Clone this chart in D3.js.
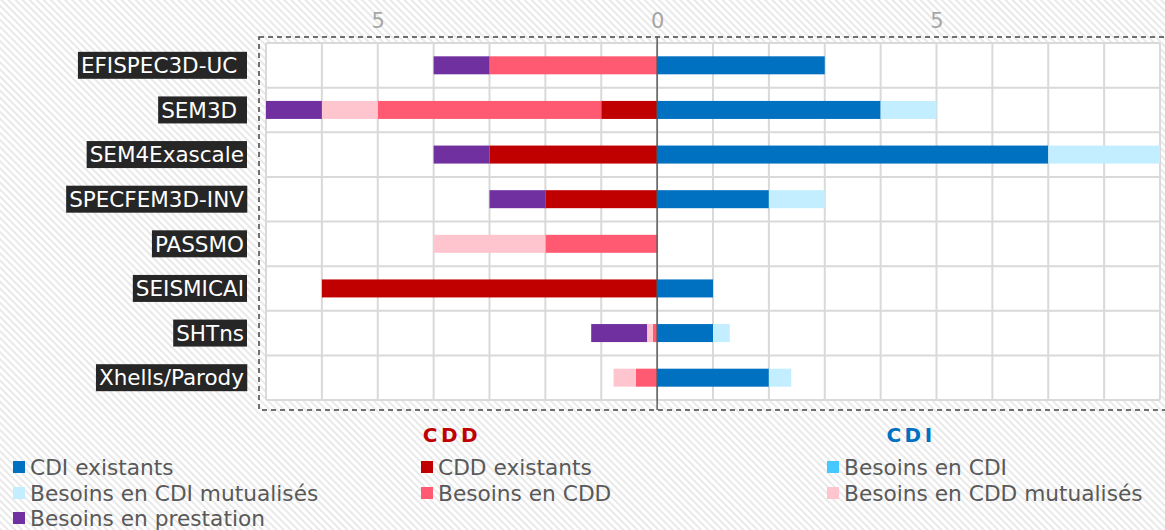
<!DOCTYPE html>
<html><head><meta charset="utf-8">
<script src="https://cdn.jsdelivr.net/npm/d3@7"></script>
<style>
html,body{margin:0;padding:0;background:#fff;}
svg{display:block;}
text{font-family:"DejaVu Sans",sans-serif;white-space:pre;}
</style></head>
<body>
<svg id="chart" width="1165" height="530"></svg>
<script>
const categories = ["EFISPEC3D-UC ", "SEM3D ", "SEM4Exascale", "SPECFEM3D-INV", "PASSMO", "SEISMICAI", "SHTns", "Xhells/Parody"];
// right side (CDI)
const cdiExistants      = [3, 4, 7, 2, 0, 1, 1, 2];
const besoinsCDI        = [0, 0, 0, 0, 0, 0, 0, 0];
const besoinsCDIMutu    = [0, 1, 2, 1, 0, 0, 0.3, 0.4];
// left side (CDD)
const cddExistants      = [0, 1, 3, 2, 0, 6, 0, 0];
const besoinsCDD        = [3, 4, 0, 0, 2, 0, 0.08, 0.38];
const besoinsCDDMutu    = [0, 1, 0, 0, 2, 0, 0.1, 0.4];
const besoinsPrestation = [1, 1, 1, 1, 0, 0, 1, 0];
const tickValues = [-5, 0, 5];
const sideTitles = ["CDD", "CDI"];

const rightSeries = [
  {name:"CDI existants", values:cdiExistants, color:"#0070C0"},
  {name:"Besoins en CDI", values:besoinsCDI, color:"#45C8FF"},
  {name:"Besoins en CDI mutualisés", values:besoinsCDIMutu, color:"#C2EEFF"}
];
const leftSeries = [
  {name:"CDD existants", values:cddExistants, color:"#C00000"},
  {name:"Besoins en CDD", values:besoinsCDD, color:"#FF5A72"},
  {name:"Besoins en CDD mutualisés", values:besoinsCDDMutu, color:"#FFC5CF"},
  {name:"Besoins en prestation", values:besoinsPrestation, color:"#7030A0"}
];
const legendOrder = ["CDI existants","CDD existants","Besoins en CDI","Besoins en CDI mutualisés","Besoins en CDD","Besoins en CDD mutualisés","Besoins en prestation"];
const colorOf = {};
rightSeries.concat(leftSeries).forEach(s => colorOf[s.name] = s.color);

const svg = d3.select("#chart");
const defs = svg.append("defs");
const pat = defs.append("pattern").attr("id","hatch").attr("patternUnits","userSpaceOnUse")
  .attr("width",5).attr("height",5).attr("patternTransform","rotate(-45)");
pat.append("rect").attr("width",5).attr("height",5).attr("fill","#ffffff");
pat.append("rect").attr("width",2).attr("height",5).attr("fill","#e9e9e9");
svg.append("rect").attr("width",1165).attr("height",530).attr("fill","url(#hatch)");

const plot = {left:266, right:1160, top:43, bottom:400};
const x = d3.scaleLinear().domain([-7, 9]).range([plot.left, plot.right]);
const y = d3.scaleBand().domain(categories).range([plot.top, plot.bottom]).paddingInner(0).paddingOuter(0);
const barH = 18;

// dashed frame
svg.append("rect").attr("x",259).attr("y",37).attr("width",920).attr("height",373)
  .attr("fill","none").attr("stroke","#444").attr("stroke-width",1.5).attr("stroke-dasharray","5,4");

// plot background
svg.append("rect").attr("x",plot.left).attr("y",plot.top).attr("width",plot.right-plot.left).attr("height",plot.bottom-plot.top)
  .attr("fill","#fff").attr("stroke","#d9d9d9").attr("stroke-width",2).attr("rx",2);

// grid
const g = svg.append("g");
g.selectAll("line.v").data(d3.range(-6, 9)).join("line")
  .attr("x1",d=>x(d)).attr("x2",d=>x(d)).attr("y1",plot.top).attr("y2",plot.bottom)
  .attr("stroke","#d9d9d9").attr("stroke-width",2);
g.selectAll("line.h").data(categories.slice(1)).join("line")
  .attr("x1",plot.left).attr("x2",plot.right).attr("y1",d=>y(d)).attr("y2",d=>y(d))
  .attr("stroke","#d9d9d9").attr("stroke-width",2);

// bars
function drawSide(series, sign){
  const cum = categories.map(()=>0);
  series.forEach(s=>{
    const segs = categories.map((c,i)=>{
      const v0 = cum[i], v1 = cum[i] + s.values[i];
      cum[i] = v1;
      return {c, v0:sign*v0, v1:sign*v1, v:s.values[i]};
    }).filter(d=>d.v>0);
    svg.append("g").selectAll("rect").data(segs).join("rect")
      .attr("x",d=>x(Math.min(d.v0,d.v1)))
      .attr("width",d=>Math.abs(x(d.v1)-x(d.v0)))
      .attr("y",d=>y(d.c)+y.bandwidth()/2-barH/2)
      .attr("height",barH)
      .attr("fill",s.color);
  });
}
drawSide(rightSeries, 1);
drawSide(leftSeries, -1);

// zero line
svg.append("line").attr("x1",x(0)).attr("x2",x(0)).attr("y1",37).attr("y2",410)
  .attr("stroke","#555").attr("stroke-width",1.4);

// top axis
const axis = d3.axisTop(x).tickValues(tickValues).tickFormat(d=>Math.abs(d)).tickSize(0).tickPadding(0);
const ax = svg.append("g").attr("transform","translate(0,28)").call(axis);
ax.select(".domain").remove();
ax.selectAll("text").attr("fill","#a6a6a6").style("font-size","21px").style("font-family","DejaVu Sans");

// category labels
const lab = svg.append("g");
categories.forEach(c=>{
  const cy = y(c)+y.bandwidth()/2;
  const grp = lab.append("g");
  const t = grp.append("text").attr("x",244).attr("y",cy).attr("text-anchor","end")
    .attr("dy","0.36em").attr("fill","#fff").style("font-size","21.5px").text(c);
  const bb = t.node().getBBox();
  grp.insert("rect","text").attr("x",bb.x-3).attr("y",cy-13.5).attr("width",bb.width+6).attr("height",27).attr("fill","#262626");
});

// side titles
svg.append("text").attr("x",452).attr("y",442).attr("text-anchor","middle")
  .attr("fill","#C00000").style("font-size","20px").style("font-weight","bold").style("letter-spacing","3.5px").text(sideTitles[0]);
svg.append("text").attr("x",911).attr("y",442).attr("text-anchor","middle")
  .attr("fill","#0070C0").style("font-size","20px").style("font-weight","bold").style("letter-spacing","3.5px").text(sideTitles[1]);

// legend
const colX = [13, 421, 827], rowY = [467, 493, 518];
const leg = svg.append("g");
legendOrder.forEach((n,i)=>{
  const cx = colX[i%3], cy = rowY[Math.floor(i/3)];
  leg.append("rect").attr("x",cx).attr("y",cy-6).attr("width",12).attr("height",12).attr("fill",colorOf[n]);
  leg.append("text").attr("x",cx+17).attr("y",cy).attr("dy","0.36em").attr("fill","#595959").style("font-size","21.7px").text(n);
});
</script>
</body></html>
